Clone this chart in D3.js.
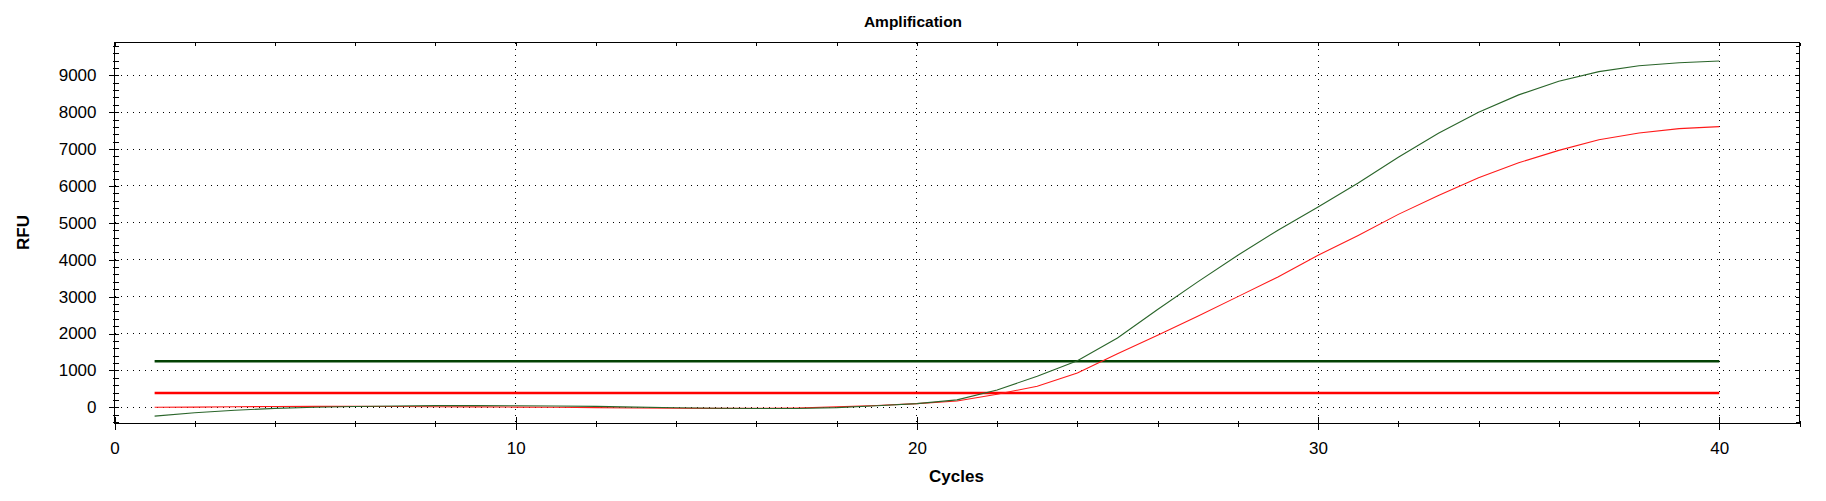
<!DOCTYPE html>
<html>
<head>
<meta charset="utf-8">
<script src="https://cdn.jsdelivr.net/npm/d3@7"></script>
<style>
  html, body { margin: 0; padding: 0; background: #fff; }
  svg { display: block; font-family: "Liberation Sans", Arial, sans-serif; }
</style>
</head>
<body>
<div id="chart"></div>
<script>
// cycles 1..40
const cycles = d3.range(1, 41);

// RFU readings for the two wells
const greenRfu = [
  -240, -150, -80, -30, 0, 20, 35, 45, 45, 40,
  35, 25, 5, -15, -25, -35, -35, -10, 40, 100,
  200, 470, 840, 1260, 1880, 2650, 3400, 4120, 4800, 5430,
  6080, 6780, 7430, 8000, 8470, 8840, 9100, 9260, 9340, 9390
];
const redRfu = [
  0, 5, 15, 20, 25, 25, 20, 15, 10, 5,
  0, -10, -20, -25, -30, -30, -20, 10, 50, 100,
  170, 355, 570, 930, 1450, 1950, 2470, 3000, 3530, 4120,
  4660, 5230, 5745, 6225, 6630, 6965, 7255, 7435, 7555, 7610
];

// threshold lines
const greenThreshold = 1250;
const redThreshold = 390;

const xMajorTicks = [0, 10, 20, 30, 40];
const xMinorTicks = d3.range(0, 43, 2);
const yMajorTicks = d3.range(0, 9001, 1000);
const yMinorTicks = d3.range(-400, 9801, 200);

const W = 1826, H = 501;
const margin = {top: 42, right: 27, bottom: 78, left: 114};
const width = W - margin.left - margin.right;
const height = H - margin.top - margin.bottom;

const svg = d3.select("#chart").append("svg")
    .attr("width", W)
    .attr("height", H);

const x = d3.scaleLinear().domain([0, 42]).range([0, width]);
const y = d3.scaleLinear().domain([-440, 9890]).range([height, 0]);

const g = svg.append("g")
    .attr("transform", `translate(${margin.left + 0.5},${margin.top + 0.5})`);

// dotted grid
g.append("g")
    .selectAll("line")
    .data(yMajorTicks)
    .enter().append("line")
    .attr("x1", 0).attr("x2", width)
    .attr("y1", d => Math.round(y(d))).attr("y2", d => Math.round(y(d)))
    .attr("stroke", "#000")
    .attr("stroke-dasharray", "1,5")
    .attr("shape-rendering", "crispEdges");

g.append("g")
    .selectAll("line")
    .data(xMajorTicks.filter(d => d > 0))
    .enter().append("line")
    .attr("x1", d => Math.round(x(d))).attr("x2", d => Math.round(x(d)))
    .attr("y1", 0).attr("y2", height)
    .attr("stroke", "#000")
    .attr("stroke-dasharray", "1,5")
    .attr("shape-rendering", "crispEdges");

// axes
function styleAxis(sel) {
    sel.select(".domain").remove();
    sel.selectAll("line").attr("stroke", "#000").attr("shape-rendering", "crispEdges");
    sel.selectAll("text").attr("fill", "#000").style("font-size", "17px")
        .style("font-family", "'Liberation Sans', Arial, sans-serif");
}

// bottom minor
const xMinor = g.append("g").attr("transform", `translate(0,${height})`)
    .call(d3.axisBottom(x).tickValues(xMinorTicks).tickSize(3).tickFormat(""));
styleAxis(xMinor);
xMinor.selectAll("line").attr("y1", -3);

// bottom major
const xMajor = g.append("g").attr("transform", `translate(0,${height})`)
    .call(d3.axisBottom(x).tickValues(xMajorTicks).tickSize(6).tickFormat(d3.format("d")));
styleAxis(xMajor);
xMajor.selectAll("line").attr("y1", -7);
xMajor.selectAll("text").attr("y", 30).attr("dy", 0);

// top ticks (inward)
const xTop = g.append("g")
    .call(d3.axisTop(x).tickValues(xMinorTicks).tickSize(-3).tickFormat(""));
styleAxis(xTop);

// left minor
const yMinor = g.append("g")
    .call(d3.axisLeft(y).tickValues(yMinorTicks).tickSize(2).tickFormat(""));
styleAxis(yMinor);
yMinor.selectAll("line").attr("x1", 4);

// left major
const yMajor = g.append("g")
    .call(d3.axisLeft(y).tickValues(yMajorTicks).tickSize(6).tickFormat(d3.format("d")));
styleAxis(yMajor);
yMajor.selectAll("line").attr("x1", 4);
yMajor.selectAll("text").attr("x", -18);

// right ticks (inward)
const yRight = g.append("g").attr("transform", `translate(${width},0)`)
    .call(d3.axisRight(y).tickValues(yMinorTicks).tickSize(-4).tickFormat(""));
styleAxis(yRight);

// frame
g.append("rect")
    .attr("x", 0).attr("y", 0)
    .attr("width", width).attr("height", height)
    .attr("fill", "none")
    .attr("stroke", "#000")
    .attr("shape-rendering", "crispEdges");

// threshold lines
g.append("line")
    .attr("x1", x(1)).attr("x2", x(40))
    .attr("y1", y(greenThreshold)).attr("y2", y(greenThreshold))
    .attr("stroke", "#034203").attr("stroke-width", 2.5);

g.append("line")
    .attr("x1", x(1)).attr("x2", x(40))
    .attr("y1", y(redThreshold)).attr("y2", y(redThreshold))
    .attr("stroke", "#ff0000").attr("stroke-width", 2.5);

// curves
const line = d3.line()
    .x(d => x(d[0]))
    .y(d => y(d[1]));

g.append("path")
    .datum(cycles.map((c, i) => [c, redRfu[i]]))
    .attr("fill", "none")
    .attr("stroke", "#ff1a1a")
    .attr("stroke-width", 1.1)
    .attr("d", line);

g.append("path")
    .datum(cycles.map((c, i) => [c, greenRfu[i]]))
    .attr("fill", "none")
    .attr("stroke", "#2a652a")
    .attr("stroke-width", 1.1)
    .attr("d", line);

// titles
svg.append("text")
    .attr("x", W / 2)
    .attr("y", 27)
    .attr("text-anchor", "middle")
    .style("font-size", "15.5px")
    .style("font-weight", "bold")
    .text("Amplification");

svg.append("text")
    .attr("x", margin.left + width / 2)
    .attr("y", 482)
    .attr("text-anchor", "middle")
    .style("font-size", "17px")
    .style("font-weight", "bold")
    .text("Cycles");

svg.append("text")
    .attr("transform", `translate(29,${margin.top + height / 2}) rotate(-90)`)
    .attr("text-anchor", "middle")
    .style("font-size", "17px")
    .style("font-weight", "bold")
    .text("RFU");
</script>
</body>
</html>
